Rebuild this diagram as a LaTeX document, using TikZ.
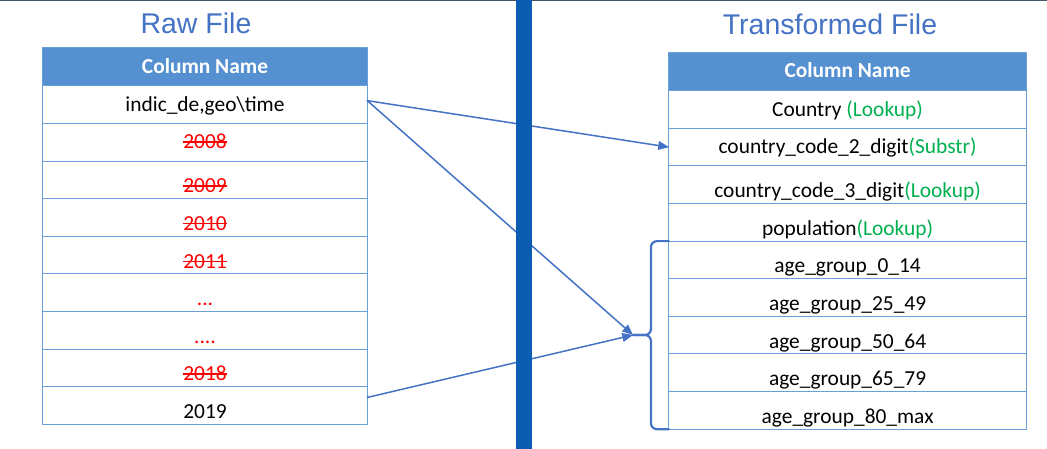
\documentclass[tikz,border=0pt]{standalone}
\usepackage{fontspec}
\setmainfont{Carlito}
\newfontfamily\titlefont{Liberation Sans}
\usetikzlibrary{arrows}
\usetikzlibrary{positioning}
\definecolor{titleblue}{HTML}{4472C4}
\definecolor{headblue}{HTML}{5591D0}
\definecolor{gridblue}{HTML}{6A9FD9}
\definecolor{barblue}{HTML}{0B5DB2}
\definecolor{okgreen}{HTML}{00B050}
\definecolor{dropred}{HTML}{FF0000}
\definecolor{edgegrey}{HTML}{44546A}
\newcommand{\dropped}[1]{{\color{dropred}\setbox0\hbox{#1}\rlap{\rule[6pt]{\wd0}{1.4pt}}\box0}}
\newcommand{\how}[1]{\textcolor{okgreen}{#1}}

\begin{document}
\begin{tikzpicture}[line cap=round,line join=round,>=triangle 45,x=1pt,y=-1pt,
    title/.style={font=\titlefont\fontsize{28.5}{30}\selectfont,text=titleblue,anchor=base},
    cell/.style={draw=gridblue,line width=1pt,minimum height=37.6pt,inner sep=0pt,outer sep=0pt,
      text height=17pt,text depth=4pt,font=\fontsize{21.4}{24}\selectfont},
    rawcell/.style={cell,minimum width=324.6pt},
    newcell/.style={cell,minimum width=357.3pt},
    head/.style={fill=headblue,text=white,minimum height=38.5pt,font=\fontsize{21.4}{24}\selectfont\bfseries},
    low/.style={text height=30pt},
    link/.style={draw=titleblue,line width=1.5pt},
    bracket/.style={draw=titleblue,line width=2.2pt,rounded corners=6pt}]
      \useasboundingbox (0,0) rectangle (1047,449);
      \draw [edgegrey,line width=1pt] (0,0.5)-- (1047,0.5);
      % titles
      \node[title] (rawtitle) at (196,33.3) {Raw File};
      \node[title] (newtitle) at (830,34.3) {Transformed File};
      % raw file columns
      \node[rawcell,head] (raw0) at (205,66.6) {Column Name};
      \node[rawcell,below=0pt of raw0] (raw1) {indic\_de,geo\textbackslash time};
      \node[rawcell,below=0pt of raw1] (raw2) {\dropped{2008}};
      \node[rawcell,low,below=0pt of raw2] (raw3) {\dropped{2009}};
      \node[rawcell,low,below=0pt of raw3] (raw4) {\dropped{2010}};
      \node[rawcell,low,below=0pt of raw4] (raw5) {\dropped{2011}};
      \node[rawcell,low,below=0pt of raw5] (raw6) {\textcolor{dropred}{...}};
      \node[rawcell,low,below=0pt of raw6] (raw7) {\textcolor{dropred}{....}};
      \node[rawcell,low,below=0pt of raw7] (raw8) {\dropped{2018}};
      \node[rawcell,low,below=0pt of raw8] (raw9) {2019};
      % transformed file columns
      \node[newcell,head] (new0) at (847.6,71.5) {Column Name};
      \node[newcell,below=0pt of new0] (new1) {Country \how{(Lookup)}};
      \node[newcell,below=0pt of new1] (new2) {country\_code\_2\_digit\how{(Substr)}};
      \node[newcell,low,below=0pt of new2] (new3) {country\_code\_3\_digit\how{(Lookup)}};
      \node[newcell,low,below=0pt of new3] (new4) {population\how{(Lookup)}};
      \node[newcell,low,below=0pt of new4] (new5) {age\_group\_0\_14};
      \node[newcell,low,below=0pt of new5] (new6) {age\_group\_25\_49};
      \node[newcell,low,below=0pt of new6] (new7) {age\_group\_50\_64};
      \node[newcell,low,below=0pt of new7] (new8) {age\_group\_65\_79};
      \node[newcell,low,below=0pt of new8] (new9) {age\_group\_80\_max};
      % brace over the age groups
      \coordinate (tip) at (633,335);
      \draw[bracket] (new5.north west)-- ++(-18,0) |- (tip);
      \draw[bracket] (new9.south west)-- ++(-18,0) |- (tip);
      % mappings
      \draw[link,->] ([yshift=4pt]raw1.east)-- (new2.west);
      \draw[link,->] ([yshift=4pt]raw1.east)-- (tip);
      \draw[link,->] ([yshift=8pt]raw9.east)-- (tip);
      % divider
      \fill[barblue] (516,0) rectangle (532,449);
\end{tikzpicture}
\end{document}
